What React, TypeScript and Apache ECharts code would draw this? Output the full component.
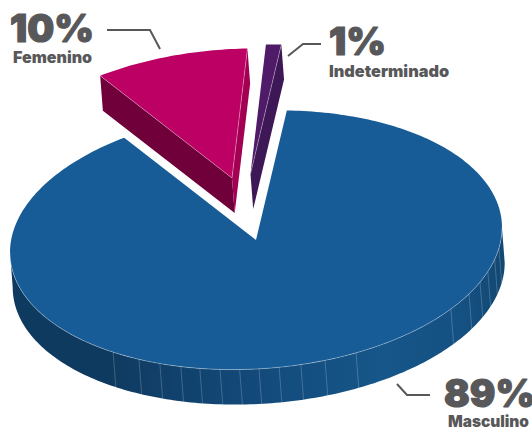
import React, { useEffect, useRef } from "react";
import * as echarts from "echarts";

const categories = ["Masculino", "Femenino", "Indeterminado"];
const shares = [89, 10, 1];
const percentLabels = ["89%", "10%", "1%"];

const topColors = ["#175C96", "#BC0064", "#4F1A68"];
const startFaceColors = ["", "#6F0039", ""];
const endFaceColors = ["", "#A30053", "#3D1756"];
const explodeX = [0, -24, -5.5];
const explodeY = [0, -62, -66];

// Angles, in degrees measured from the front of the pie, where the pale seams cross the blue wall.
const seamAngles = [-35.5, -28.4, -23, -17.8, -13.2, -8.4, -3.8, 0.7, 5.4, 10.5, 16.3, 24, 52.4, 60, 65.6, 70.5, 76, 81];

const CX = 256, CY = 240, RX = 246, RY = 129, TILT = -0.05;
const DEPTH_X = 2.7, DEPTH_Y = 35;
const START_ANGLE = 7.2;
const INK = "#58585A";

const rad = (d: number) => (d * Math.PI) / 180;
// d measured clockwise from the top of the ellipse
function rim(d: number, ox = 0, oy = 0): number[] {
  const dx = RX * Math.sin(rad(d));
  const dy = -RY * Math.cos(rad(d)) + TILT * dx;
  return [CX + dx + ox, CY + dy + oy];
}
const arc = (a: number, b: number, ox = 0, oy = 0) => {
  const n = Math.max(2, Math.ceil(Math.abs(b - a)));
  const pts: number[][] = [];
  for (let i = 0; i <= n; i++) pts.push(rim(a + ((b - a) * i) / n, ox, oy));
  return pts;
};

const total = shares.reduce((s, v) => s + v, 0);
const startOf = (i: number) => START_ANGLE + (shares.slice(0, i).reduce((s, v) => s + v, 0) / total) * 360;

function renderSlice(params: any, api: any) {
  const i = params.dataIndex;
  const a = startOf(i);
  const b = a + (api.value(0) / total) * 360;
  const ox = explodeX[i], oy = explodeY[i];
  const apex = [CX + ox, CY + oy];
  const apexLow = [apex[0] + DEPTH_X, apex[1] + DEPTH_Y];
  const low = (p: number[]) => [p[0] + DEPTH_X, p[1] + DEPTH_Y];
  const children: any[] = [];
  const seam = { stroke: "rgba(255,255,255,0.25)", lineWidth: 0.8, fill: "none" };
  const rimLine = { ...seam, stroke: "rgba(255,255,255,0.4)" };

  if (i === 0) {
    // front wall of the big slice
    const front = arc(90, 270);
    children.push({
      type: "polygon",
      shape: { points: [...front, ...front.slice().reverse().map(low)] },
      style: {
        fill: new echarts.graphic.LinearGradient(0, 0, 1, 0, [
          { offset: 0, color: "#0F3A60" },
          { offset: 0.2, color: "#0F3A60" },
          { offset: 0.5, color: "#134A7B" },
          { offset: 0.75, color: "#165689" },
          { offset: 0.92, color: "#155082" },
          { offset: 1, color: "#124872" },
        ]),
      },
    });
    seamAngles.forEach((s) => {
      const p = rim(180 - s);
      children.push({ type: "line", shape: { x1: p[0], y1: p[1], x2: p[0] + DEPTH_X, y2: p[1] + DEPTH_Y }, style: seam });
    });
  }
  if (startFaceColors[i]) {
    const o = rim(a, ox, oy);
    children.push({ type: "polygon", shape: { points: [o, low(o), apexLow, apex] }, style: { fill: startFaceColors[i] } });
  }
  if (endFaceColors[i]) {
    const o = rim(b, ox, oy);
    children.push({ type: "polygon", shape: { points: [o, low(o), apexLow, apex] }, style: { fill: endFaceColors[i] } });
  }
  children.push({
    type: "polygon",
    shape: { points: [apex, ...arc(a, b, ox, oy)] },
    style: { fill: topColors[i] },
  });
  if (i === 0) {
    children.push({ type: "polyline", shape: { points: arc(90, 270) }, style: rimLine });
  } else {
    const edge = rim(b, ox, oy);
    children.push({ type: "line", shape: { x1: apex[0], y1: apex[1], x2: edge[0], y2: edge[1] }, style: rimLine });
    if (startFaceColors[i]) {
      const e0 = rim(a, ox, oy);
      children.push({ type: "line", shape: { x1: apex[0], y1: apex[1], x2: e0[0], y2: e0[1] }, style: rimLine });
    }
  }
  return { type: "group", children };
}

const FONT = "Inter";
const big = (text: string, x: number, bottom: number) => ({
  type: "text", x, y: bottom,
  style: { text, fill: INK, fontFamily: FONT, fontWeight: 900, fontSize: 38, align: "left", verticalAlign: "bottom", stroke: INK, lineWidth: 1.2 },
});
const small = (text: string, x: number, bottom: number, size: number) => ({
  type: "text", x, y: bottom,
  style: { text, fill: INK, fontFamily: FONT, fontWeight: 900, fontSize: size, align: "left", verticalAlign: "bottom" },
});
const leader = (points: number[][]) => ({
  type: "polyline",
  shape: { points },
  style: { stroke: INK, lineWidth: 2, fill: "none" },
});

export default function App() {
  const ref = useRef<HTMLDivElement>(null);
  useEffect(() => {
    document.body.style.margin = "0";
    const chart = echarts.init(ref.current!, undefined, { renderer: "svg" });
    chart.setOption({
      animation: false,
      backgroundColor: "#fff",
      series: [
        {
          type: "custom",
          coordinateSystem: "none",
          renderItem: renderSlice,
          data: shares.map((v, i) => ({ name: categories[i], value: [v] })),
          silent: true,
        },
      ],
      graphic: [
        big(percentLabels[1], 10, 47),
        small(categories[1], 13, 65, 16),
        leader([[107, 30], [150, 30], [160, 49]]),
        big(percentLabels[2], 329, 60),
        small(categories[2], 329, 79, 16.3),
        leader([[288, 56], [303, 44], [321, 44]]),
        big(percentLabels[0], 444, 412),
        small(categories[0], 448, 429, 15.4),
        leader([[397, 384], [407, 395], [430, 395]]),
      ],
    });
    return () => chart.dispose();
  }, []);
  return <div ref={ref} style={{ width: 532, height: 427 }} />;
}
